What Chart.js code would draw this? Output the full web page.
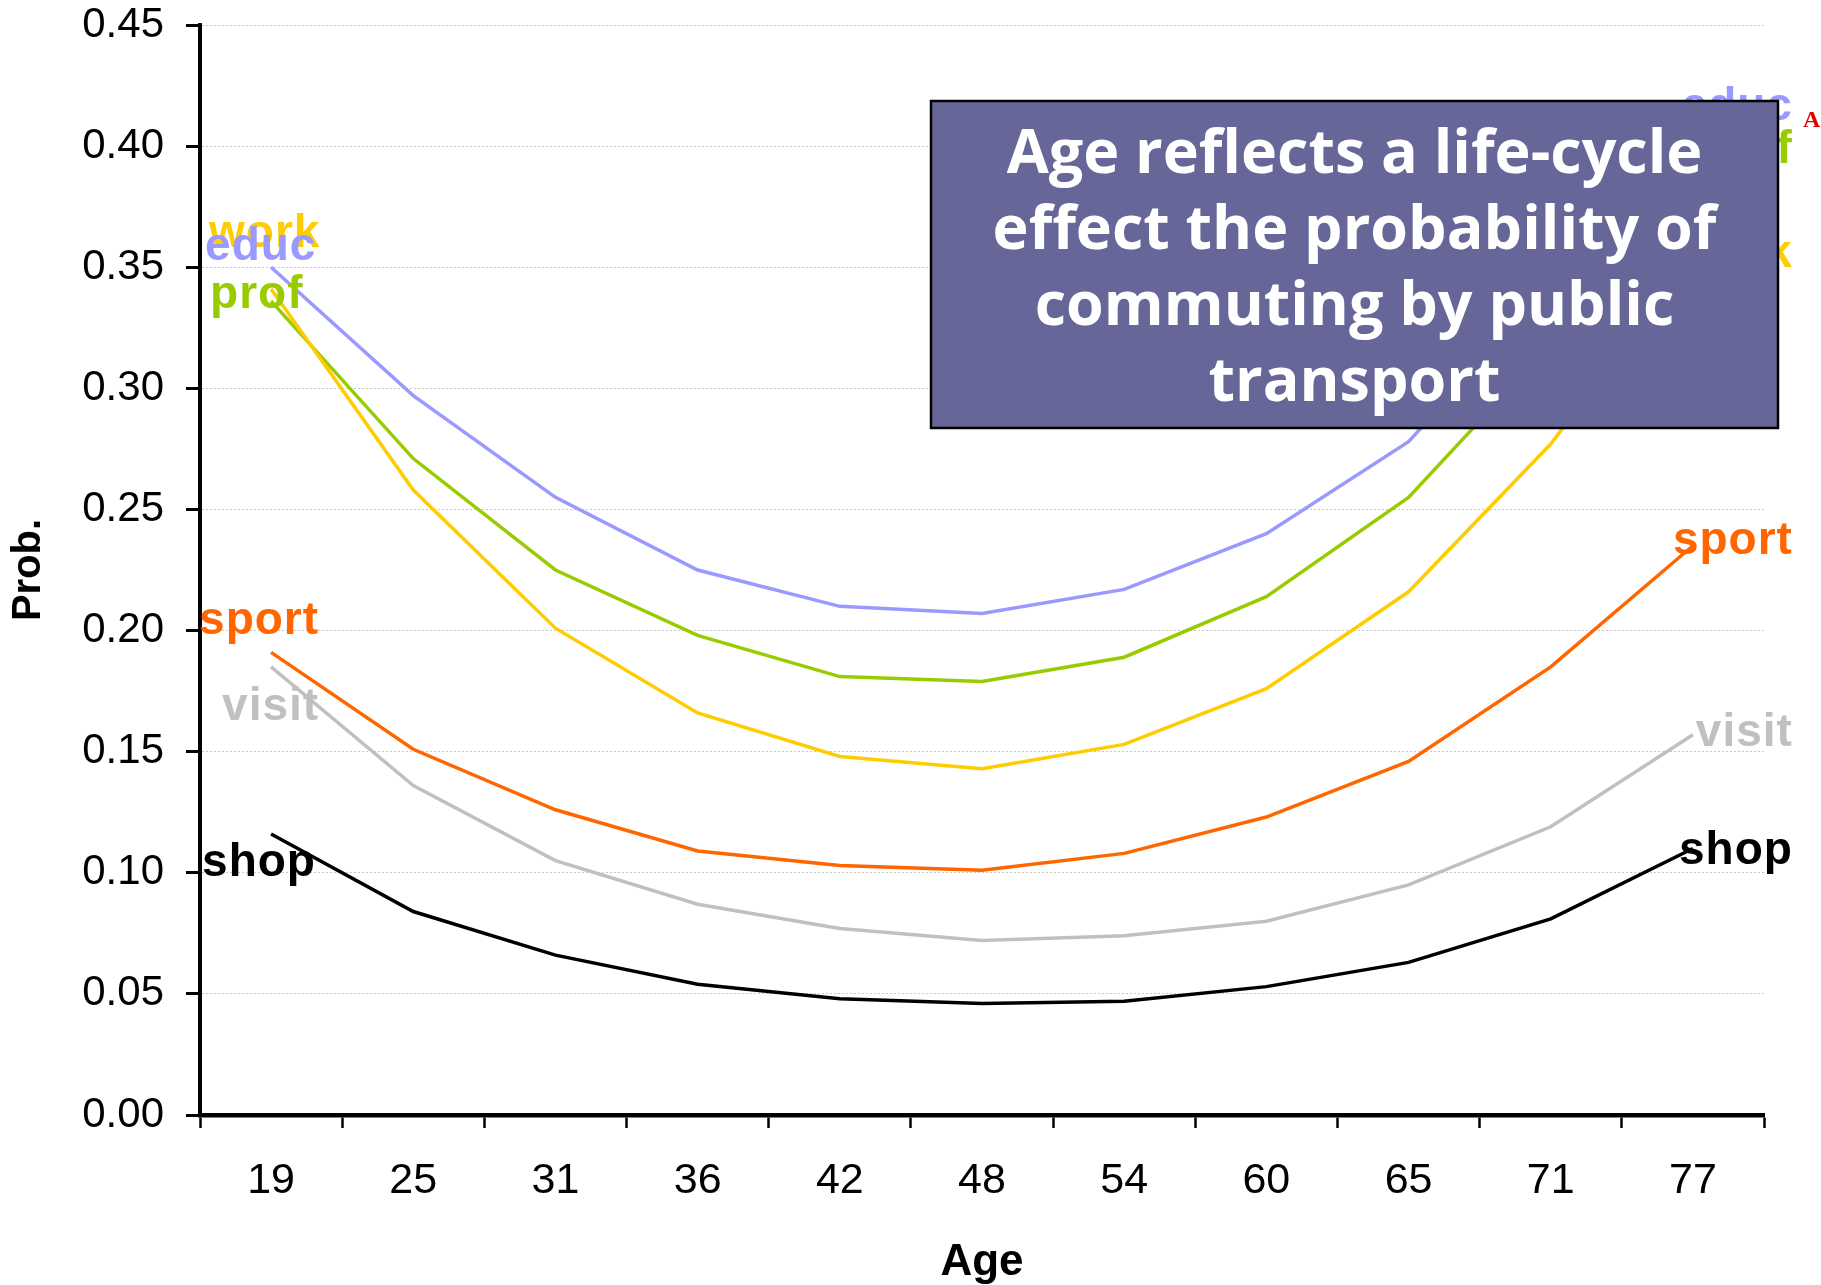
<!DOCTYPE html>
<html>
<head>
<meta charset="utf-8">
<title>Prob. by age</title>
<script src="https://cdn.jsdelivr.net/npm/chart.js@4.4.1/dist/chart.umd.min.js"></script>
<style>
  html, body { margin: 0; padding: 0; background: #fff; }
  #wrap { width: 1821px; height: 1285px; }
</style>
</head>
<body>
<div id="wrap"><canvas id="chart" width="1821" height="1285"></canvas></div>
<script>
// Data
const ages  = ['19', '25', '31', '36', '42', '48', '54', '60', '65', '71', '77'];
const work  = [0.341, 0.258, 0.201, 0.166, 0.148, 0.143, 0.153, 0.176, 0.216, 0.277, 0.355];
const educ  = [0.350, 0.297, 0.255, 0.225, 0.210, 0.207, 0.217, 0.240, 0.278, 0.342, 0.415];
const prof  = [0.336, 0.271, 0.225, 0.198, 0.181, 0.179, 0.189, 0.214, 0.255, 0.318, 0.400];
const sport = [0.191, 0.151, 0.126, 0.109, 0.103, 0.101, 0.108, 0.123, 0.146, 0.185, 0.235];
const visit = [0.185, 0.136, 0.105, 0.087, 0.077, 0.072, 0.074, 0.080, 0.095, 0.119, 0.157];
const shop  = [0.116, 0.084, 0.066, 0.054, 0.048, 0.046, 0.047, 0.053, 0.063, 0.081, 0.110];

const boxLines = ['Age reflects a life-cycle', 'effect the probability of', 'commuting by public', 'transport'];

const colors = {
    work: '#FFCC00',
    educ: '#9999FF',
    prof: '#99CC00',
    sport: '#FF6600',
    visit: '#C0C0C0',
    shop: '#000000'
};

// where each series name sits, relative to its first / last point (px)
const nameSpots = {
    work:  { start: [-62, -42], end: [100, 12] },
    educ:  { start: [-66, -7],  end: [100, 10] },
    prof:  { start: [-61, 7],   end: [100, 17] },
    sport: { start: [-72, -18], end: [100, 8] },
    visit: { start: [-49, 53],  end: [100, 11] },
    shop:  { start: [-69, 42],  end: [100, 15] }
};

const series = { work, educ, prof, sport, visit, shop };

const datasets = Object.keys(series).map(name => ({
    label: name,
    data: series[name],
    borderColor: colors[name],
    backgroundColor: colors[name],
    borderWidth: 3.5,
    pointRadius: 0,
    tension: 0,
    fill: false
}));

const seriesNames = {
    id: 'seriesNames',
    afterDatasetsDraw(chart) {
        const ctx = chart.ctx;
        ctx.save();
        ctx.font = 'bold 46px "Liberation Sans", Arial, sans-serif';
        ctx.letterSpacing = '1px';
        ctx.textBaseline = 'alphabetic';
        chart.data.datasets.forEach((ds, i) => {
            const pts = chart.getDatasetMeta(i).data;
            const first = pts[0], last = pts[pts.length - 1];
            const spot = nameSpots[ds.label];
            ctx.fillStyle = ds.borderColor;
            ctx.textAlign = 'left';
            ctx.fillText(ds.label, first.x + spot.start[0], first.y + spot.start[1]);
            ctx.textAlign = 'right';
            ctx.fillText(ds.label, last.x + spot.end[0], last.y + spot.end[1]);
        });
        ctx.restore();
    }
};

const noteBox = {
    id: 'noteBox',
    afterDraw(chart) {
        const ctx = chart.ctx;
        const x = 931, y = 101, w = 847, h = 327;
        ctx.save();
        ctx.fillStyle = '#666699';
        ctx.fillRect(x, y, w, h);
        ctx.lineWidth = 2.5;
        ctx.strokeStyle = '#000';
        ctx.strokeRect(x, y, w, h);

        // fit the widest line to the box text width in the picture
        ctx.font = 'bold 100px "Open Sans", "Noto Sans", sans-serif';
        const wide = ctx.measureText(boxLines[1]).width;
        const size = Math.round(100 * 722 / wide);
        ctx.font = 'bold ' + size + 'px "Open Sans", "Noto Sans", sans-serif';
        ctx.fillStyle = '#fff';
        ctx.textAlign = 'center';
        ctx.textBaseline = 'middle';
        boxLines.forEach((t, i) => ctx.fillText(t, x + w / 2, 156 + i * 76));

        // clipped red mark at the right edge
        ctx.fillStyle = '#E00000';
        ctx.font = 'bold 24px "Liberation Serif", serif';
        ctx.textAlign = 'left';
        ctx.textBaseline = 'alphabetic';
        ctx.fillText('A', 1803, 127);
        ctx.restore();
    }
};

const ctx = document.getElementById('chart').getContext('2d');
new Chart(ctx, {
    type: 'line',
    data: { labels: ages, datasets: datasets },
    options: {
        responsive: false,
        animation: false,
        layout: { padding: { top: 25, right: 57, bottom: 0, left: 0 } },
        plugins: {
            legend: { display: false },
            tooltip: { enabled: false }
        },
        scales: {
            x: {
                offset: true,
                grid: {
                    offset: true,
                    drawOnChartArea: false,
                    tickLength: 13,
                    tickWidth: 2.5,
                    tickColor: '#000'
                },
                border: { display: true, color: '#000', width: 4.5 },
                ticks: {
                    color: '#000',
                    padding: 32,
                    font: { family: '"Liberation Sans", Arial, sans-serif', size: 43, lineHeight: 1 },
                    maxRotation: 0,
                    autoSkip: false
                },
                title: {
                    display: true,
                    text: 'Age',
                    color: '#000',
                    font: { family: '"Liberation Sans", Arial, sans-serif', size: 44, weight: 'bold', lineHeight: 1 },
                    padding: { top: 0, bottom: 0 }
                },
                afterFit(scale) {
                    scale.height = 170;
                    scale.paddingLeft = 0;
                    scale.paddingRight = 0;
                }
            },
            y: {
                min: 0,
                max: 0.45,
                grid: {
                    color: '#C8C8C8',
                    lineWidth: 1,
                    tickLength: 14,
                    tickWidth: 3,
                    tickColor: '#000',
                    tickBorderDash: []
                },
                border: { display: true, color: '#000', width: 4, dash: [2, 2] },
                ticks: {
                    stepSize: 0.05,
                    color: '#000',
                    padding: 22,
                    font: { family: '"Liberation Sans", Arial, sans-serif', size: 42, lineHeight: 1 },
                    callback: v => v.toFixed(2)
                },
                title: {
                    display: true,
                    text: 'Prob.',
                    color: '#000',
                    font: { family: '"Liberation Sans", Arial, sans-serif', size: 40, weight: 'bold', lineHeight: 1.2 },
                    padding: { top: 5, bottom: 0 }
                },
                afterFit(scale) {
                    scale.width = 200;
                    scale.paddingTop = 0;
                    scale.paddingBottom = 0;
                }
            }
        }
    },
    plugins: [seriesNames, noteBox]
});
</script>
</body>
</html>
